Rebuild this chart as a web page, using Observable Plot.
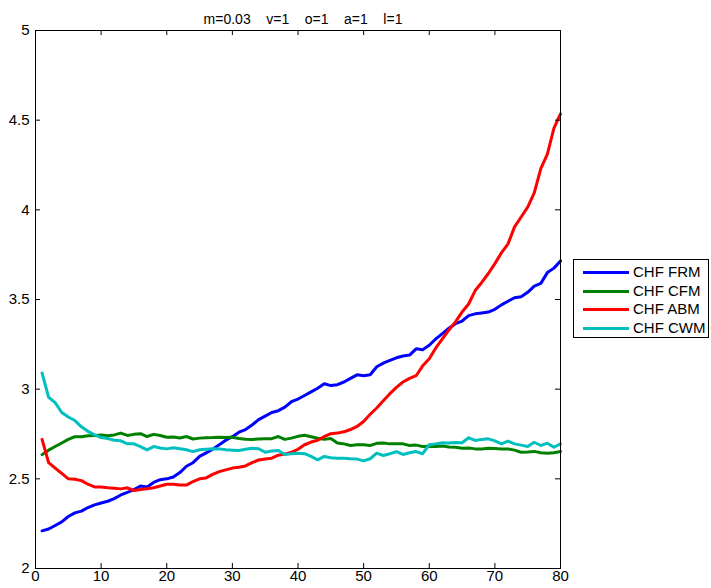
<!DOCTYPE html>
<html>
<head>
<meta charset="utf-8">
<script src="https://cdn.jsdelivr.net/npm/d3@7"></script>
<script src="https://cdn.jsdelivr.net/npm/@observablehq/plot@0.6"></script>
<style>
  body { margin: 0; background: #fff; }
  #wrap { position: relative; width: 711px; height: 588px; font-family: "Liberation Sans", Arial, sans-serif; }
  #legend { position: absolute; left: 573px; top: 259px; width: 136px; height: 79px; border: 1px solid #000; background: #fff; box-sizing: border-box; }
  .item { position: absolute; left: 0; height: 18px; width: 134px; }
  .swatch { position: absolute; left: 9px; width: 46px; height: 3px; top: 8px; }
  .label { position: absolute; left: 59px; top: 0; font-size: 15px; line-height: 18px; color: #000; white-space: nowrap; }
</style>
</head>
<body>
<div id="wrap"><div id="chart"></div><div id="legend"></div></div>
<script>
// Model parameters shown in the title
const titleParts = ["m=0.03", "v=1", "o=1", "a=1", "l=1"];

// Series names and colours
const seriesNames = ["CHF FRM", "CHF CFM", "CHF ABM", "CHF CWM"];
const seriesColors = ["#0000ff", "#008000", "#ff0000", "#00bfbf"];

// Time steps 1..80
const steps = d3.range(1, 81);

const frm = [2.21,2.22,2.24,2.26,2.29,2.31,2.32,2.34,2.355,2.365,
  2.375,2.39,2.41,2.425,2.44,2.46,2.455,2.48,2.495,2.50,
  2.51,2.535,2.57,2.59,2.625,2.645,2.665,2.69,2.715,2.735,
  2.76,2.775,2.80,2.83,2.85,2.87,2.88,2.90,2.93,2.945,
  2.965,2.985,3.005,3.03,3.02,3.025,3.04,3.06,3.08,3.075,
  3.08,3.125,3.145,3.16,3.175,3.185,3.19,3.225,3.22,3.245,
  3.28,3.31,3.34,3.365,3.38,3.41,3.42,3.425,3.43,3.445,
  3.47,3.49,3.51,3.515,3.54,3.575,3.59,3.65,3.675,3.715];

const cfm = [2.635,2.66,2.68,2.70,2.72,2.735,2.735,2.74,2.742,2.745,
  2.74,2.745,2.755,2.742,2.748,2.752,2.736,2.748,2.742,2.732,
  2.733,2.728,2.736,2.722,2.727,2.729,2.73,2.732,2.73,2.732,
  2.725,2.721,2.72,2.722,2.723,2.724,2.736,2.72,2.727,2.737,
  2.743,2.735,2.726,2.72,2.725,2.70,2.695,2.686,2.69,2.69,
  2.686,2.698,2.70,2.695,2.695,2.695,2.686,2.688,2.68,2.682,
  2.68,2.683,2.678,2.676,2.671,2.672,2.667,2.667,2.671,2.669,
  2.667,2.667,2.66,2.648,2.65,2.653,2.645,2.642,2.645,2.652];

const abm = [2.72,2.59,2.56,2.53,2.50,2.498,2.49,2.47,2.455,2.455,
  2.45,2.447,2.444,2.45,2.435,2.44,2.445,2.45,2.46,2.47,
  2.47,2.465,2.465,2.485,2.50,2.505,2.525,2.54,2.55,2.56,
  2.565,2.572,2.59,2.605,2.61,2.615,2.632,2.638,2.648,2.665,
  2.69,2.705,2.715,2.735,2.752,2.755,2.762,2.775,2.792,2.82,
  2.86,2.895,2.935,2.975,3.01,3.04,3.06,3.075,3.13,3.17,
  3.23,3.28,3.33,3.375,3.43,3.475,3.55,3.595,3.645,3.70,
  3.76,3.81,3.905,3.96,4.015,4.095,4.23,4.31,4.455,4.535];

const cwm = [3.09,2.955,2.925,2.87,2.845,2.825,2.79,2.765,2.745,2.73,
  2.725,2.715,2.712,2.695,2.695,2.68,2.662,2.68,2.672,2.667,
  2.673,2.668,2.662,2.652,2.662,2.665,2.668,2.667,2.662,2.66,
  2.658,2.665,2.67,2.668,2.648,2.655,2.658,2.635,2.64,2.643,
  2.64,2.625,2.606,2.625,2.618,2.615,2.615,2.612,2.61,2.60,
  2.612,2.643,2.63,2.64,2.652,2.636,2.645,2.652,2.64,2.69,
  2.695,2.701,2.70,2.703,2.701,2.729,2.714,2.72,2.723,2.712,
  2.695,2.71,2.695,2.688,2.68,2.704,2.686,2.699,2.676,2.695];

// Axis tick values
const xTicks = [0, 10, 20, 30, 40, 50, 60, 70, 80];
const yTicks = [2, 2.5, 3, 3.5, 4, 4.5, 5];

const seriesValues = [frm, cfm, abm, cwm];
const rows = seriesNames.flatMap((name, i) =>
  steps.map((t, j) => ({step: t, value: seriesValues[i][j], series: name})));

const W = 711, H = 588;
const mL = 35, mR = 151, mT = 30, mB = 20;
const plotW = W - mL - mR, plotH = H - mT - mB;
const tickLen = 5;
const gap = "\u00a0\u00a0\u00a0\u00a0";

const chart = Plot.plot({
  width: W,
  height: H,
  marginLeft: mL,
  marginRight: mR,
  marginTop: mT,
  marginBottom: mB,
  style: {fontFamily: "'Liberation Sans', Arial, sans-serif", fontSize: "15px", color: "#000", background: "#fff", overflow: "visible"},
  x: {domain: [0, 80]},
  y: {domain: [2, 5]},
  color: {domain: seriesNames, range: seriesColors},
  marks: [
    Plot.line(rows, {x: "step", y: "value", z: "series", stroke: "series", strokeWidth: 3, strokeLinejoin: "round", strokeLinecap: "round"}),
    Plot.frame({stroke: "#000", strokeWidth: 1}),
    // inward ticks on all four sides
    Plot.tickX(xTicks, {x: d => d, insetTop: plotH - tickLen, stroke: "#000"}),
    Plot.tickX(xTicks, {x: d => d, insetBottom: plotH - tickLen, stroke: "#000"}),
    Plot.tickY(yTicks, {y: d => d, insetRight: plotW - tickLen, stroke: "#000"}),
    Plot.tickY(yTicks, {y: d => d, insetLeft: plotW - tickLen, stroke: "#000"}),
    Plot.axisX({ticks: xTicks, tickSize: 0, tickPadding: 2, tickFormat: d => String(d), label: null}),
    Plot.axisY({ticks: yTicks, tickSize: 0, tickPadding: 6, tickFormat: d => String(d), label: null}),
    Plot.text([titleParts.join(gap)], {frameAnchor: "top", dy: -16, dx: 5, text: d => d, fontSize: 14, fill: "#000"})
  ]
});
document.getElementById("chart").appendChild(chart);

// Legend box to the right of the axes
const legend = document.getElementById("legend");
const rowTops = [3, 21.5, 40, 59];
seriesNames.forEach((name, i) => {
  const item = document.createElement("div");
  item.className = "item";
  item.style.top = rowTops[i] + "px";
  const sw = document.createElement("div");
  sw.className = "swatch";
  sw.style.background = seriesColors[i];
  const lb = document.createElement("div");
  lb.className = "label";
  lb.textContent = name;
  item.appendChild(sw);
  item.appendChild(lb);
  legend.appendChild(item);
});
</script>
</body>
</html>
